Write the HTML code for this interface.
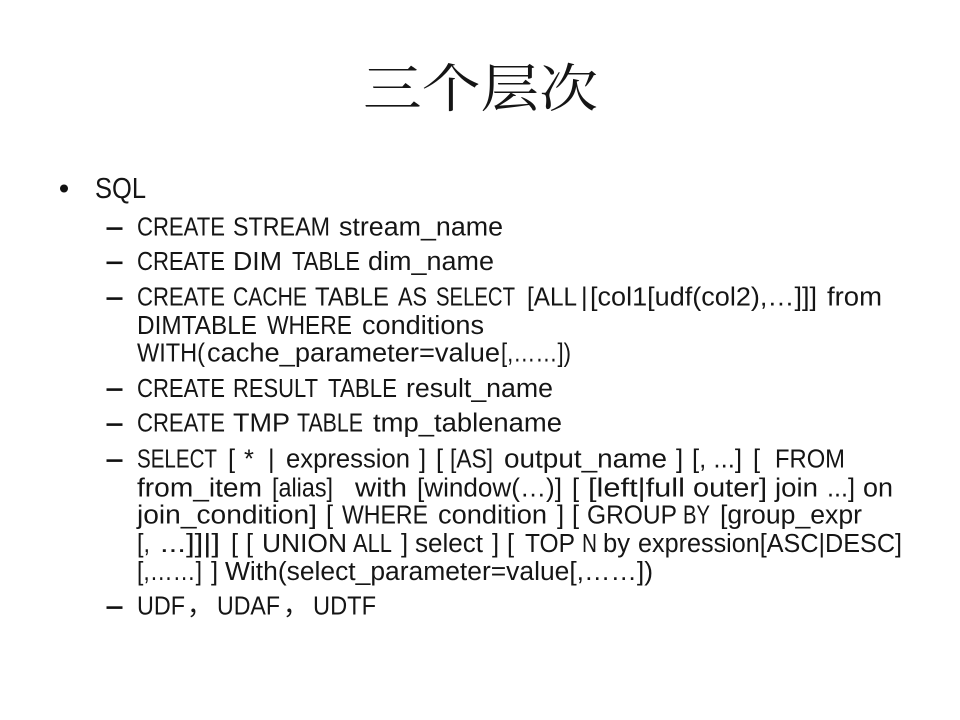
<!DOCTYPE html>
<html>
<head>
<meta charset="utf-8">
<style>
html,body{margin:0;padding:0;background:#fff;width:960px;height:720px;overflow:hidden}
svg{display:block;filter:blur(0.35px)}
text{font-family:"Liberation Sans","Noto Sans CJK SC",sans-serif;font-size:25.5px;fill:#151515}
</style>
</head>
<body>
<svg width="960" height="720" viewBox="0 0 960 720" xmlns="http://www.w3.org/2000/svg">
<rect width="960" height="720" fill="#fff"/>
<text x="363" y="107" style="font-family:'Noto Serif CJK SC',serif;font-size:52px" textLength="235" lengthAdjust="spacingAndGlyphs">三个层次</text>
<circle cx="64" cy="188.500" r="4" fill="#111"/>
<text x="95" y="198" style="font-size:29px" textLength="51" lengthAdjust="spacingAndGlyphs">SQL</text>
<g fill="#111">
<rect x="106.500" y="227.300" width="16" height="2.600"/>
<rect x="106.500" y="261.500" width="16" height="2.600"/>
<rect x="106.500" y="297.300" width="16" height="2.600"/>
<rect x="106.500" y="388.300" width="16" height="2.600"/>
<rect x="106.500" y="423.300" width="16" height="2.600"/>
<rect x="106.500" y="459.300" width="16" height="2.600"/>
<rect x="106.500" y="606.300" width="16" height="2.600"/>
</g>

<text x="137" y="235.500" textLength="88" lengthAdjust="spacingAndGlyphs">CREATE</text>
<text x="233" y="235.500" textLength="97" lengthAdjust="spacingAndGlyphs">STREAM</text>
<text x="339" y="235.500" textLength="164" lengthAdjust="spacingAndGlyphs">stream_name</text>

<text x="137" y="270" textLength="88" lengthAdjust="spacingAndGlyphs">CREATE</text>
<text x="233" y="270" textLength="49" lengthAdjust="spacingAndGlyphs">DIM</text>
<text x="292" y="270" textLength="68" lengthAdjust="spacingAndGlyphs">TABLE</text>
<text x="368" y="270" textLength="126" lengthAdjust="spacingAndGlyphs">dim_name</text>

<text x="137" y="305.500" textLength="88" lengthAdjust="spacingAndGlyphs">CREATE</text>
<text x="233" y="305.500" textLength="74" lengthAdjust="spacingAndGlyphs">CACHE</text>
<text x="315" y="305.500" textLength="74" lengthAdjust="spacingAndGlyphs">TABLE</text>
<text x="398" y="305.500" textLength="29" lengthAdjust="spacingAndGlyphs">AS</text>
<text x="436" y="305.500" textLength="79" lengthAdjust="spacingAndGlyphs">SELECT</text>
<text x="527" y="305.500" textLength="50" lengthAdjust="spacingAndGlyphs">[ALL</text>
<text x="581" y="305.500">|</text>
<text x="590" y="305.500" textLength="227" lengthAdjust="spacingAndGlyphs">[col1[udf(col2),…]]]</text>
<text x="827" y="305.500" textLength="55" lengthAdjust="spacingAndGlyphs">from</text>

<text x="137" y="334" textLength="120" lengthAdjust="spacingAndGlyphs">DIMTABLE</text>
<text x="267" y="334" textLength="85" lengthAdjust="spacingAndGlyphs">WHERE</text>
<text x="362" y="334" textLength="122" lengthAdjust="spacingAndGlyphs">conditions</text>

<text x="137" y="361.500" textLength="68" lengthAdjust="spacingAndGlyphs">WITH(</text>
<text x="207" y="361.500" textLength="293" lengthAdjust="spacingAndGlyphs">cache_parameter=value</text>
<text x="501" y="361.500" textLength="70" lengthAdjust="spacingAndGlyphs">[,……])</text>

<text x="137" y="397" textLength="88" lengthAdjust="spacingAndGlyphs">CREATE</text>
<text x="233" y="397" textLength="85" lengthAdjust="spacingAndGlyphs">RESULT</text>
<text x="328" y="397" textLength="69" lengthAdjust="spacingAndGlyphs">TABLE</text>
<text x="406" y="397" textLength="147" lengthAdjust="spacingAndGlyphs">result_name</text>

<text x="137" y="431.500" textLength="88" lengthAdjust="spacingAndGlyphs">CREATE</text>
<text x="233" y="431.500" textLength="57" lengthAdjust="spacingAndGlyphs">TMP</text>
<text x="297" y="431.500" textLength="66" lengthAdjust="spacingAndGlyphs">TABLE</text>
<text x="373" y="431.500" textLength="189" lengthAdjust="spacingAndGlyphs">tmp_tablename</text>

<text x="137" y="467.500" textLength="80" lengthAdjust="spacingAndGlyphs">SELECT</text>
<text x="228" y="467.500">[</text>
<text x="244" y="467.500">*</text>
<text x="268" y="467.500">|</text>
<text x="286" y="467.500" textLength="124" lengthAdjust="spacingAndGlyphs">expression</text>
<text x="419" y="467.500">]</text>
<text x="436" y="467.500">[</text>
<text x="450" y="467.500" textLength="43" lengthAdjust="spacingAndGlyphs">[AS]</text>
<text x="504" y="467.500" textLength="163" lengthAdjust="spacingAndGlyphs">output_name</text>
<text x="676" y="467.500">]</text>
<text x="692" y="467.500" textLength="50" lengthAdjust="spacingAndGlyphs">[, ...]</text>
<text x="753" y="467.500">[</text>
<text x="775" y="467.500" textLength="70" lengthAdjust="spacingAndGlyphs">FROM</text>

<text x="137" y="496.500" textLength="125" lengthAdjust="spacingAndGlyphs">from_item</text>
<text x="272" y="496.500" textLength="61" lengthAdjust="spacingAndGlyphs">[alias]</text>
<text x="355" y="496.500" textLength="52" lengthAdjust="spacingAndGlyphs">with</text>
<text x="417" y="496.500" textLength="145" lengthAdjust="spacingAndGlyphs">[window(…)]</text>
<text x="572" y="496.500">[</text>
<text x="588" y="496.500" textLength="97" lengthAdjust="spacingAndGlyphs">[left|full</text>
<text x="693" y="496.500" textLength="74" lengthAdjust="spacingAndGlyphs">outer]</text>
<text x="775" y="496.500" textLength="43" lengthAdjust="spacingAndGlyphs">join</text>
<text x="827" y="496.500" textLength="28" lengthAdjust="spacingAndGlyphs">...]</text>
<text x="863" y="496.500" textLength="30" lengthAdjust="spacingAndGlyphs">on</text>

<text x="137" y="523.500" textLength="180" lengthAdjust="spacingAndGlyphs">join_condition]</text>
<text x="326" y="523.500">[</text>
<text x="342" y="523.500" textLength="86" lengthAdjust="spacingAndGlyphs">WHERE</text>
<text x="438" y="523.500" textLength="109" lengthAdjust="spacingAndGlyphs">condition</text>
<text x="557" y="523.500">]</text>
<text x="572" y="523.500">[</text>
<text x="587" y="523.500" textLength="90" lengthAdjust="spacingAndGlyphs">GROUP</text>
<text x="683" y="523.500" textLength="27" lengthAdjust="spacingAndGlyphs">BY</text>
<text x="720" y="523.500" textLength="142" lengthAdjust="spacingAndGlyphs">[group_expr</text>

<text x="137" y="552" textLength="13" lengthAdjust="spacingAndGlyphs">[,</text>
<text x="160" y="552" textLength="60" lengthAdjust="spacingAndGlyphs">...]]|]</text>
<text x="231" y="552">[</text>
<text x="246" y="552">[</text>
<text x="262" y="552" textLength="85" lengthAdjust="spacingAndGlyphs">UNION</text>
<text x="353" y="552" textLength="39" lengthAdjust="spacingAndGlyphs">ALL</text>
<text x="401" y="552">]</text>
<text x="415" y="552" textLength="68" lengthAdjust="spacingAndGlyphs">select</text>
<text x="492" y="552">]</text>
<text x="507" y="552">[</text>
<text x="525" y="552" textLength="50" lengthAdjust="spacingAndGlyphs">TOP</text>
<text x="582" y="552" textLength="15" lengthAdjust="spacingAndGlyphs">N</text>
<text x="603" y="552" textLength="27" lengthAdjust="spacingAndGlyphs">by</text>
<text x="638" y="552" textLength="264" lengthAdjust="spacingAndGlyphs">expression[ASC|DESC]</text>

<text x="137" y="580" textLength="65" lengthAdjust="spacingAndGlyphs">[,……]</text>
<text x="211" y="580">]</text>
<text x="225" y="580" textLength="428" lengthAdjust="spacingAndGlyphs">With(select_parameter=value[,……])</text>

<text x="137" y="614.500" textLength="48" lengthAdjust="spacingAndGlyphs">UDF</text>
<text x="187" y="614.500">，</text>
<text x="217" y="614.500" textLength="63" lengthAdjust="spacingAndGlyphs">UDAF</text>
<text x="283" y="614.500">，</text>
<text x="313" y="614.500" textLength="63" lengthAdjust="spacingAndGlyphs">UDTF</text>
</svg>
</body>
</html>
